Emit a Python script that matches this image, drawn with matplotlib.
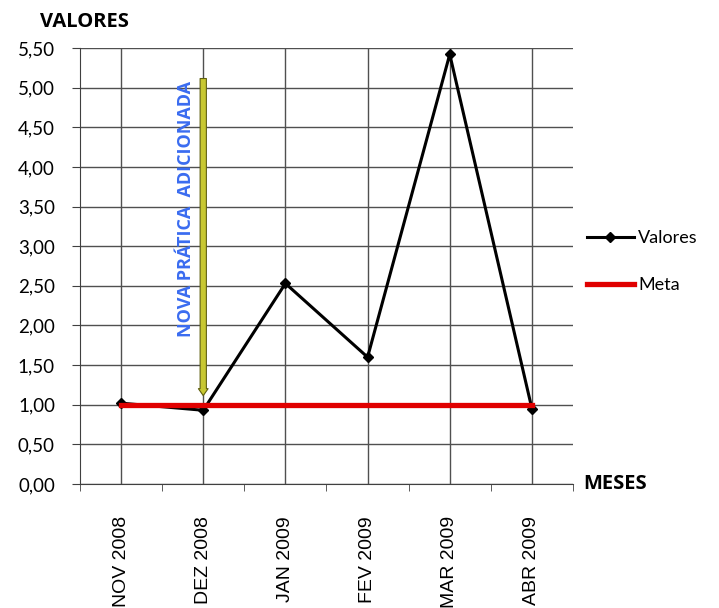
import matplotlib
matplotlib.use("Agg")
import matplotlib.pyplot as plt
from matplotlib.ticker import FixedLocator, FuncFormatter

months = ["NOV 2008", "DEZ 2008", "JAN 2009", "FEV 2009", "MAR 2009", "ABR 2009"]
valores = [1.02, 0.93, 2.53, 1.60, 5.42, 0.95]
meta = [1.00, 1.00, 1.00, 1.00, 1.00, 1.00]
y_ticks = [0.0, 0.5, 1.0, 1.5, 2.0, 2.5, 3.0, 3.5, 4.0, 4.5, 5.0, 5.5]

# annotation: new practice added in DEZ 2008
note_text = "NOVA PRÁTICA  ADICIONADA"
note_month = 1
note_top = 5.15
note_bottom = 1.08

fig = plt.figure(figsize=(7.19, 6.08), dpi=100)
ax = fig.add_axes([80 / 719, 1 - 484 / 608, 493 / 719, 436 / 608])

x = list(range(len(months)))
ax.plot(x, valores, color="black", lw=2.2, marker="D", markersize=5.5,
        label="Valores", zorder=4)
ax.plot(x, meta, color="#e00000", lw=3.8, label="Meta", zorder=5)

ax.set_xlim(-0.5, len(months) - 0.5)
ax.set_ylim(0, 5.5)
ax.set_yticks(y_ticks)
ax.yaxis.set_major_formatter(FuncFormatter(lambda v, p: f"{v:.2f}".replace(".", ",")))
ax.set_xticks(x)
ax.set_xticklabels(months, rotation=90, fontfamily="Liberation Sans", fontsize=14)
ax.xaxis.set_minor_locator(FixedLocator([i + 0.5 for i in range(-1, len(months))]))
ax.tick_params(axis="x", which="major", length=0, pad=23)
ax.tick_params(axis="x", which="minor", length=5, direction="out", color="#404040")
ax.tick_params(axis="y", length=6, direction="out", color="#404040", pad=12)
for lbl in ax.get_yticklabels():
    lbl.set_fontfamily("Lato")
    lbl.set_fontsize(13.5)

ax.grid(True, color="#505050", lw=1)
ax.set_axisbelow(True)
for s in ["top", "right"]:
    ax.spines[s].set_visible(False)
for s in ["left", "bottom"]:
    ax.spines[s].set_color("#404040")

# arrow marking the new practice
ax.annotate("", xy=(note_month, note_bottom), xytext=(note_month, note_top),
            arrowprops=dict(arrowstyle="simple,head_length=0.5,head_width=0.7,tail_width=0.45",
                            fc="#c8c832", ec="#606010", lw=0.8), zorder=6)
ax.text(note_month - 0.215, (note_top + 1.8) / 2, note_text, rotation=90,
        ha="center", va="center", color="#3a6cf0", fontweight="bold",
        fontfamily="Open Sans", fontsize=13, zorder=6)

fig.text(40 / 719, 1 - 22 / 608, "VALORES", fontweight="bold", fontfamily="Open Sans",
         fontsize=14.5, ha="left", va="center")
fig.text(583 / 719, 1 - 484 / 608, "MESES", fontweight="bold", fontfamily="Open Sans",
         fontsize=14.5, ha="left", va="center")

leg = ax.legend(loc="center left", bbox_to_anchor=(0.995, 0.51), frameon=False,
                prop={"family": "Lato", "size": 13}, handlelength=2.6,
                labelspacing=1.75, handletextpad=0.25)

fig.savefig("out.png", dpi=100)
